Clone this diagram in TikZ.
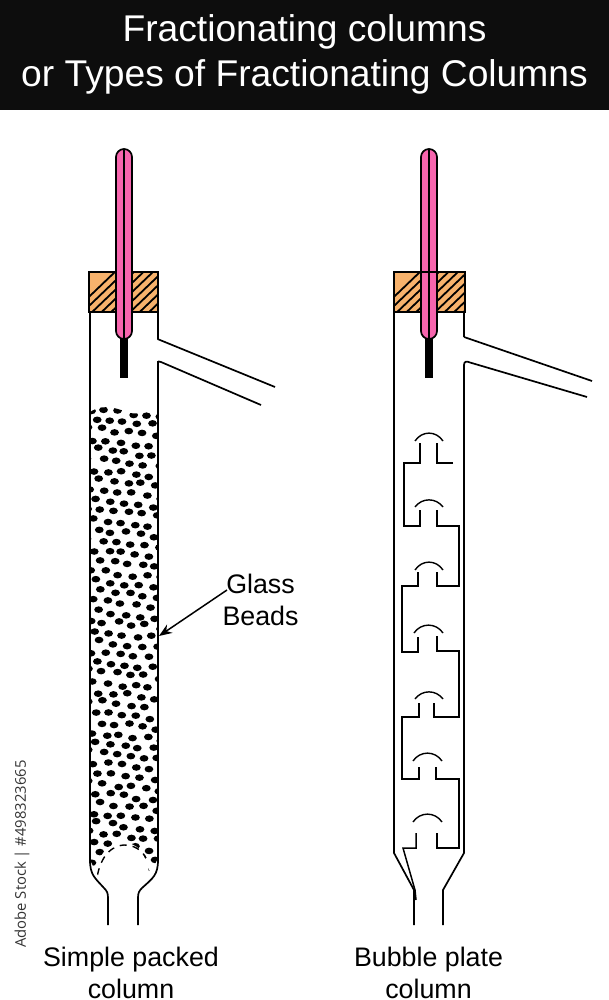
\documentclass[tikz,border=0pt]{standalone}
\usepackage{fontspec}
\setmainfont{Liberation Sans}
\newfontfamily\stockfont{Open Sans}
\usetikzlibrary{arrows.meta}
\definecolor{pinkfill}{HTML}{F765AE}
\definecolor{corkfill}{HTML}{F7B26C}
\definecolor{titlebar}{HTML}{0D0D0D}
\tikzset{
  wall/.style={line width=1.7pt,line join=miter,black},
  inner/.style={line width=1.5pt,black},
  capline/.style={line width=1.4pt,black},
  label/.style={font=\fontsize{26.8}{31.5}\selectfont,align=center,inner sep=0pt},
  titletext/.style={font=\fontsize{37.2}{45}\selectfont,text=white,align=center,inner sep=0pt},
}
\newcommand{\corkat}[2]{%
  \begin{scope}
    \clip (#1,272) rectangle (#2,312);
    \fill[corkfill] (#1,272) rectangle (#2,312);
    \foreach \k in {0,9.5,...,133}{
      \draw[line width=1.8pt] ({#1-20+\k},316) -- ({#1+28+\k},270);
    }
  \end{scope}
  \draw[wall] (#1,272) rectangle (#2,312);
}
\newcommand{\thermo}[1]{%
  \draw[wall,fill=pinkfill] ({#1-8},157) arc[start angle=180,end angle=360,radius=8] -- ({#1+8},331) arc[start angle=0,end angle=180,radius=8] -- cycle;
  \draw[line width=1.2pt] (#1,150) -- (#1,339);
  \fill ({#1-4},339) rectangle ({#1+4},378);
}
\begin{document}
\begin{tikzpicture}[x=1pt,y=-1pt]
\useasboundingbox (0,0) rectangle (609,1000);
\fill[white] (0,0) rectangle (609,1000);
\fill[titlebar] (0,0) rectangle (609,110);
\node[titletext] (title) at (304.5,54) {Fractionating columns\\or Types of Fractionating Columns};

% ---- left column: beads
\begin{scope}
  \clip (90,412) .. controls (105,402) and (120,410) .. (130,413) .. controls (140,415) and (150,410) .. (157,408)
     -- (157,860) -- (140,895) -- (108,895) -- (90,860) -- cycle;
  \pgfmathsetseed{4217}
  \foreach \r in {0,...,45}{
    \foreach \c in {0,...,6}{
      \pgfmathsetmacro{\px}{76+14*\c+mod(\r*5.3,14)+(rnd-0.5)*4}
      \pgfmathsetmacro{\py}{412+10.1*\r+(rnd-0.5)*4+(\c-3)*1.5}
      \fill[black] (\px,\py) ellipse[x radius=4.4,y radius=3.3];
    }
  }
  % clear space at the bottom of the column
  \fill[white] (97,900) -- (97,868) .. controls (100,850) and (112,843) .. (124,843) .. controls (136,843) and (146,850) .. (150,878) -- (150,900) -- cycle;
  \draw[line width=1.4pt,dash pattern=on 7pt off 6pt] (96,888) .. controls (97,862) and (108,846) .. (124,845) .. controls (134,845) and (142,850) .. (146,858);
\end{scope}
\draw[wall] (90,313) -- (90,860) .. controls (90,875) and (95,878) .. (104,888) .. controls (107,891) and (108,893) .. (108,898) -- (108,925);
\draw[wall] (158,361) -- (158,860) .. controls (158,875) and (153,878) .. (142,888) .. controls (139,891) and (138,893) .. (138,898) -- (138,925);
\draw[wall] (158,313) -- (158,339);
\draw[wall] (157.5,339) -- (275,387);
\draw[wall] (158,364) .. controls (158,361) and (159,361) .. (161,362) -- (261,405);
\corkat{89}{158}
\thermo{124}

% ---- right column
\draw[wall] (394,313) -- (394,853) -- (414,890) -- (414,925);
\draw[wall] (464,313) -- (464,337);
\draw[wall] (443,925) -- (443,890) -- (464,853) -- (464,365) .. controls (464,361) and (467,361) .. (470,362.5) -- (587,397);
\draw[wall] (464,337) -- (592,381);
\corkat{394}{465}
\thermo{429}
\draw[line width=1.1pt] (421,272) -- (437,272);

% caps
\foreach \a/\b/\y/\p in {415/443/441/433,415/443/507/500,415/443/570/562,414/443/633/625,415/443/699/692,413/442/761/753,413/442/822/814}{
  \draw[capline] (\a,\y) .. controls ({\a+7},{\p-2.5}) and ({\b-7},{\p-2.5}) .. (\b,\y);
}
% plates and down-comers
\draw[inner] (453,463) -- (437,463) -- (437,443);
\draw[inner] (420,443) -- (420,463) -- (404,463) -- (404,526) -- (420,526) -- (420,510);
\draw[inner] (437,510) -- (437,526) -- (459,526) -- (459,586) -- (437,586) -- (437,572);
\draw[inner] (418,572) -- (418,586) -- (402,586) -- (402,652) -- (418,652) -- (418,637);
\draw[inner] (437,636) -- (437,651) -- (459,651) -- (459,717) -- (434,717) -- (434,703);
\draw[inner] (419,703) -- (419,717) -- (402,717) -- (402,779) -- (419,779) -- (419,767);
\draw[inner] (436,767) -- (436,779) -- (459,779) -- (459,848) -- (437,848) -- (437,833);
\draw[inner] (416,833) -- (416,848) -- (403,848) -- (415,890) -- (416,900);

% ---- labels
\node[label] (glass) at (260.5,600) {Glass\\Beads};
\coordinate (beadtip) at (159,636);
\coordinate (beadstart) at (227,590);
\draw[line width=1.5pt,-{Stealth[length=13pt,width=10pt]}] (beadstart) -- (beadtip);
\node[label] (left) at (131,973) {Simple packed\\column};
\node[label] (right) at (428.5,973) {Bubble plate\\column};
\node[font=\stockfont\fontsize{14.8}{16}\selectfont,text=black!80,rotate=90,inner sep=0pt] (stock) at (22,854) {Adobe Stock | \#498323665};
\end{tikzpicture}
\end{document}
